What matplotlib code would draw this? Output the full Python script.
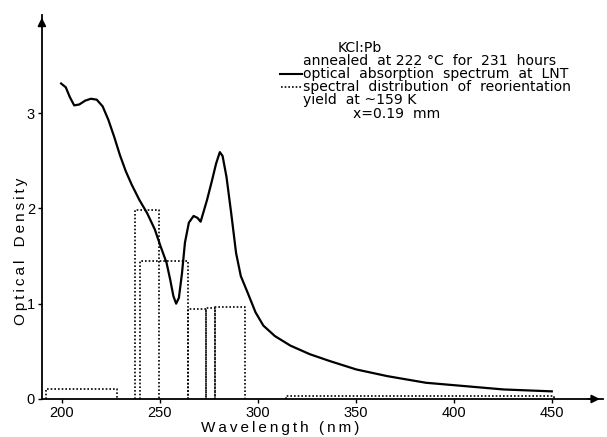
import matplotlib
matplotlib.use("Agg")
import matplotlib.pyplot as plt

plt.rcParams['font.family'] = ['Liberation Sans', 'DejaVu Sans']

# Optical absorption spectrum at LNT (solid curve)
wl = [199.6, 202.0, 204.0, 206.3, 208.9, 211.9, 214.8, 217.8, 220.8, 223.7,
      226.7, 229.6, 232.6, 235.6, 239.5, 243.5, 247.4, 250.4, 253.4, 255.3,
      256.9, 258.3, 259.7, 261.3, 262.8, 264.8, 267.2, 269.2, 270.8, 272.1,
      274.1, 276.7, 278.7, 280.6, 282.0, 284.0, 286.4, 288.9, 291.3, 294.9,
      298.8, 302.8, 308.7, 316.6, 326.5, 336.4, 350.2, 366.0, 385.8, 400.0,
      425.3, 450.0]
od = [3.31, 3.27, 3.17, 3.08, 3.09, 3.13, 3.15, 3.14, 3.07, 2.93,
      2.75, 2.56, 2.39, 2.25, 2.09, 1.95, 1.78, 1.60, 1.43, 1.25,
      1.08, 1.00, 1.06, 1.32, 1.64, 1.85, 1.92, 1.90, 1.86, 1.95,
      2.09, 2.30, 2.47, 2.59, 2.55, 2.33, 1.95, 1.53, 1.29, 1.11,
      0.91, 0.77, 0.66, 0.56, 0.47, 0.40, 0.31, 0.24, 0.17, 0.145,
      0.10, 0.08]

# Spectral distribution of reorientation yield (dotted bars)
bar_left = [191.7, 237.2, 240.1, 264.6, 273.7, 278.0, 314.6]
bar_right = [228.1, 249.4, 264.6, 273.7, 278.0, 293.3, 451.0]
bar_height = [0.10, 1.98, 1.45, 0.94, 0.95, 0.96, 0.03]

xticks = [200, 250, 300, 350, 400, 450]
yticks = [0, 1, 2, 3]

legend_lines = ['annealed  at 222 \u00b0C  for  231  hours',
                'optical  absorption  spectrum  at  LNT',
                'spectral  distribution  of  reorientation',
                'yield  at ~159 K']

fig = plt.figure(figsize=(6.07, 4.37), dpi=100)
ax = fig.add_axes([0.069, 0.087, 0.924, 0.879])
ax.set_xlim(189.8, 476)
ax.set_ylim(0, 4.03)

ax.plot(wl, od, color='black', lw=1.6, solid_joinstyle='round')
for l, r, h in zip(bar_left, bar_right, bar_height):
    ax.plot([l, l, r, r], [0, h, h, 0], color='black', lw=1.2,
            linestyle=(0, (1, 1.2)))

for s in ['top', 'right']:
    ax.spines[s].set_visible(False)
for s in ['left', 'bottom']:
    ax.spines[s].set_linewidth(1.3)
ax.set_xticks(xticks)
ax.set_yticks(yticks)
ax.tick_params(direction='out', length=3, width=1, labelsize=10.5, pad=2)

# axis arrows
ax.annotate('', xy=(1.0, 0), xytext=(0.97, 0), xycoords='axes fraction',
            arrowprops=dict(arrowstyle='-|>', color='black', lw=1.3,
                            mutation_scale=12))
ax.annotate('', xy=(0, 1.0), xytext=(0, 0.97), xycoords='axes fraction',
            arrowprops=dict(arrowstyle='-|>', color='black', lw=1.3,
                            mutation_scale=12))

ts = '\u2009'
xlab = ts.join('Wavelength') + ' ' + ts + ts + ts.join('(nm)')
ylab = ts.join('Optical') + ' ' + ts + ts + ts + ts.join('Density')
ax.set_xlabel(xlab, fontsize=11, va='center')
ax.xaxis.set_label_coords(0.424, -0.076)
ax.set_ylabel(ylab, fontsize=11, va='center')
ax.yaxis.set_label_coords(-0.038, 0.385)

# legend-like annotation
tx = 303 / 607
def fy(py):
    return 1 - py / 437
lf = dict(fontsize=10.1, va='baseline', family=['DejaVu Sans'])
fig.text(338 / 607, fy(52), 'KCl:Pb', **lf)
for txt, base in zip(legend_lines, [65, 78, 91, 104]):
    fig.text(tx, fy(base), txt, **lf)
fig.text(353 / 607, fy(118), 'x=0.19  mm', **lf)
fig.add_artist(plt.Line2D([280 / 607, 302 / 607], [fy(74), fy(74)],
                          color='black', lw=1.5))
fig.add_artist(plt.Line2D([281 / 607, 302 / 607], [fy(87), fy(87)],
                          color='black', lw=1.2, linestyle=(0, (1, 1.2))))

fig.savefig('out.png', dpi=100)
